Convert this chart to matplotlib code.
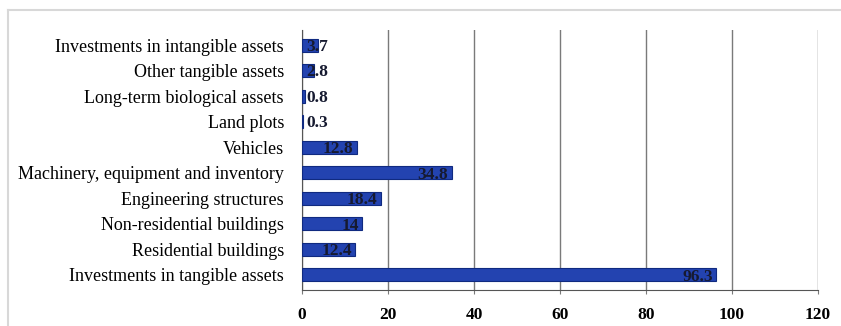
import matplotlib.pyplot as plt
from matplotlib.lines import Line2D

categories = ["Investments in tangible assets", "Residential buildings",
              "Non-residential buildings", "Engineering structures",
              "Machinery, equipment and inventory", "Vehicles", "Land plots",
              "Long-term biological assets", "Other tangible assets",
              "Investments in intangible assets"]
values = [96.3, 12.4, 14, 18.4, 34.8, 12.8, 0.3, 0.8, 2.8, 3.7]
value_labels = ["96.3", "12.4", "14", "18.4", "34.8", "12.8", "0.3", "0.8", "2.8", "3.7"]
xticks = [0, 20, 40, 60, 80, 100, 120]

plt.rcParams['font.family'] = ['Liberation Serif', 'DejaVu Serif']

fig = plt.figure(figsize=(8.41, 3.26), dpi=100)
ax = fig.add_axes([302/841, 1-290/326, (818-302)/841, (290-30)/326])

pos = list(range(len(categories)))
ax.barh(pos, values, height=0.5, color='#2343b0', edgecolor='#102a80', linewidth=0.8, zorder=3)

for p, v, lab in zip(pos, values, value_labels):
    if v >= 10:
        ax.text(v - 0.8, p - 0.08, lab, ha='right', va='center', fontsize=12.5,
                fontweight='bold', color='#161a30', zorder=4)
    else:
        ax.text(max(v, 6.0), p - 0.05, lab, ha='right', va='center', fontsize=12.5,
                fontweight='bold', color='#161a30', zorder=4)

ax.set_xlim(0, 120)
ax.set_ylim(-0.6, len(categories) - 0.4)
ax.set_xticks(xticks)
ax.set_xticklabels([str(t) for t in xticks], fontsize=12.5, fontweight='bold')
ax.set_yticks(pos)
ax.set_yticklabels(categories, fontsize=13)
ax.xaxis.grid(True, color='#7a7a7a', linewidth=1.0, zorder=0)
ax.tick_params(axis='y', length=0, pad=13)
ax.tick_params(axis='x', length=3, color='#7a7a7a', pad=9)
for s in ['top', 'right']:
    ax.spines[s].set_visible(False)
ax.spines['left'].set_color('#555555')
ax.spines['bottom'].set_color('#555555')

# light outer chart border
fig.add_artist(Line2D([8/841, 1], [1-10/326, 1-10/326], color='#d8d8d8', linewidth=1.5))
fig.add_artist(Line2D([8/841, 8/841], [0, 1-10/326], color='#d8d8d8', linewidth=1.5))

fig.savefig('out.png', dpi=100)
